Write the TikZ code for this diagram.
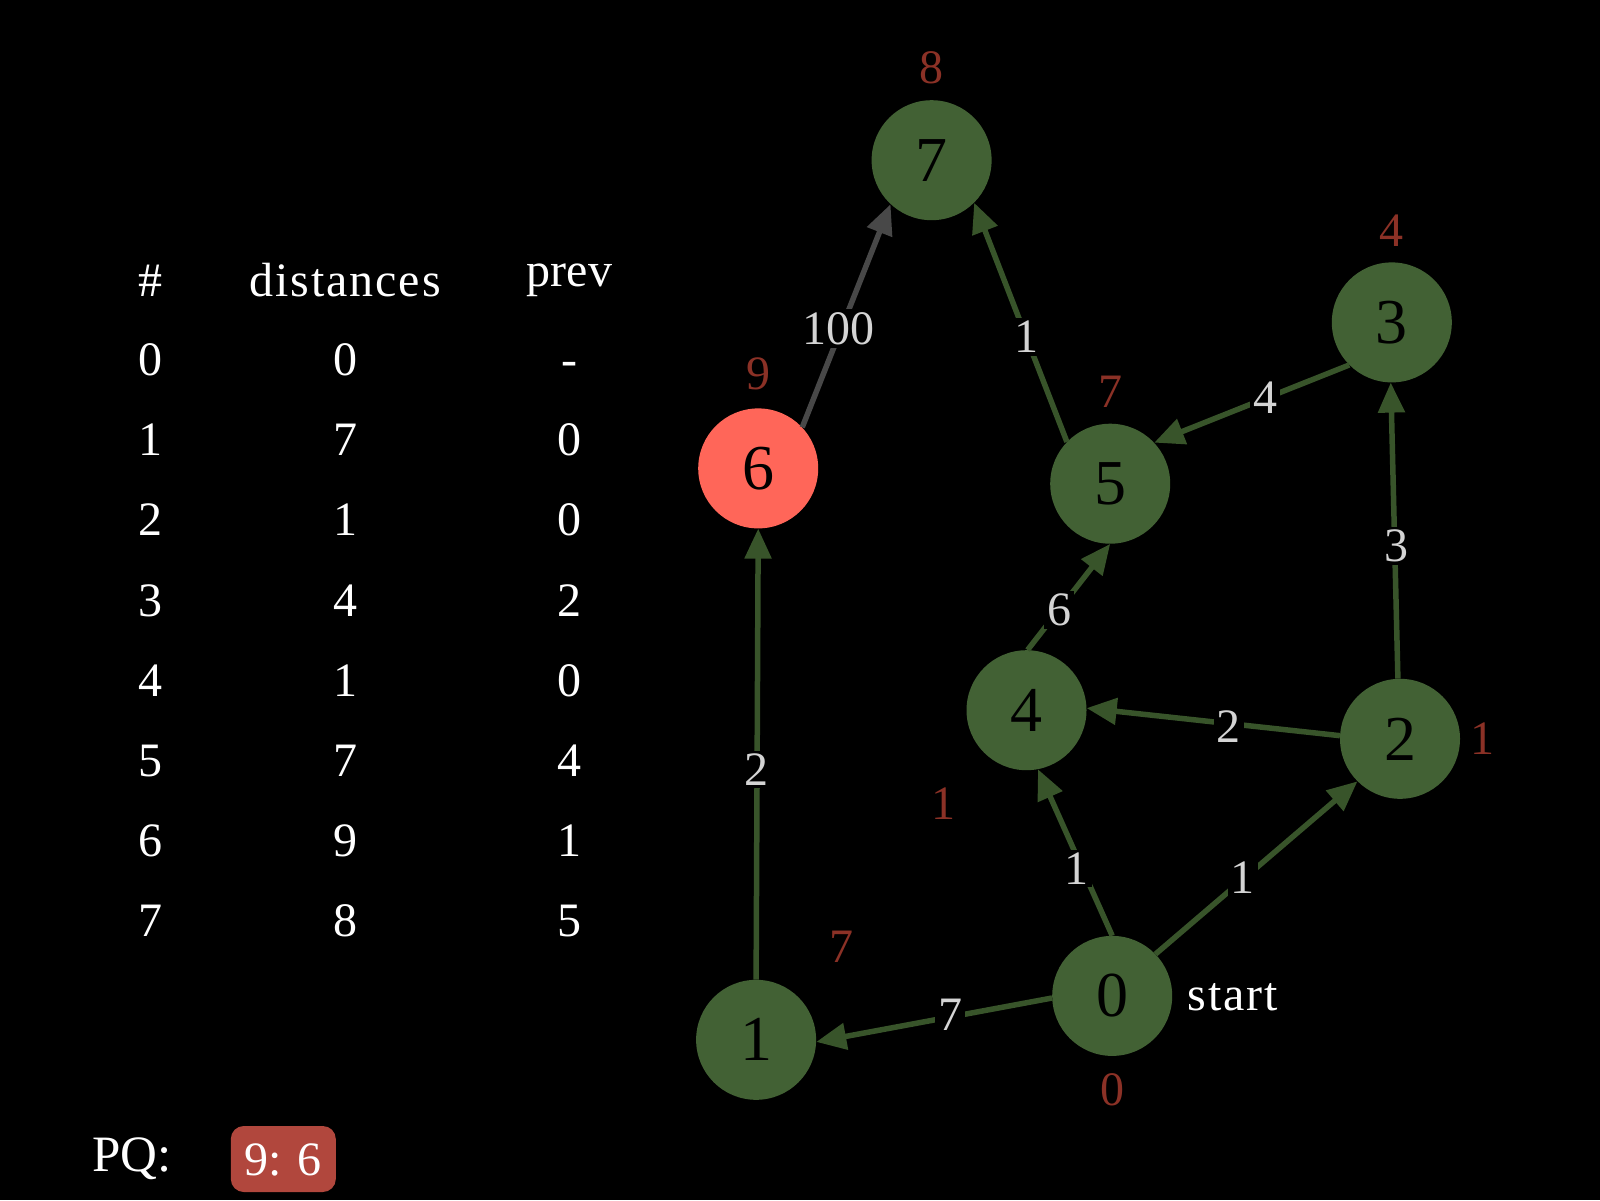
\documentclass[tikz,border=0pt]{standalone}
\usepackage{fontspec}
\setmainfont{Liberation Serif}
\usetikzlibrary{arrows.meta}
\definecolor{nodegreen}{RGB}{66,97,52}
\definecolor{edgegreen}{RGB}{56,84,42}
\definecolor{edgegray}{RGB}{72,72,72}
\definecolor{hotred}{RGB}{255,102,89}
\definecolor{distred}{RGB}{139,49,38}
\definecolor{labgray}{RGB}{212,212,212}
\definecolor{pqred}{RGB}{177,71,61}
\newcommand{\bigtxt}{\fontsize{48}{56}\selectfont}
\begin{document}
\begin{tikzpicture}[x=1pt,y=-1pt,
  vert/.style={circle, fill=nodegreen, minimum size=120pt, inner sep=0pt, text=black, font=\fontsize{64}{64}\selectfont},
  edge/.style={line width=5.5pt, draw=edgegreen, -{Triangle[length=30pt,width=26pt]}},
  elab/.style={fill=black, text=labgray, font=\bigtxt, inner sep=3pt},
  dlab/.style={text=distred, font=\bigtxt},
  tab/.style={text=white, font=\bigtxt, anchor=base},
]
\fill[black] (0,0) rectangle (1600,1200);
\useasboundingbox (0,0) rectangle (1600,1200);

% graph nodes
\node[vert] (n7) at (931.6,160.2) {7};
\node[vert] (n3) at (1391.8,322.4) {3};
\node[vert, fill=hotred] (n6) at (758.2,468.4) {6};
\node[vert] (n5) at (1110.2,483.7) {5};
\node[vert] (n4) at (1026.5,710.2) {4};
\node[vert] (n2) at (1400,738.8) {2};
\node[vert] (n0) at (1112.2,995.9) {0};
\node[vert] (n1) at (756.1,1039.8) {1};

% edges
\draw[edge, draw=edgegray] (n6.43) -- (n7.-133);
\draw[edge] (n5.136) -- (n7.-45);
\draw[edge] (n3.-135) -- (n5.43);
\draw[edge] (n2.92) -- (n3.-91);
\draw[edge] (n4.89) -- (n5.-90);
\draw[edge] (n2.177) -- (n4.2);
\draw[edge] (n0.90) -- (n4.-79);
\draw[edge] (n0.44) -- (n2.-135);
\draw[edge] (n0.182) -- (n1.-2);
\draw[edge] (n1.90) -- (n6.-90);

% edge labels
\node[elab] (w67) at (838.8,328.6) {100};
\node[elab] (w57) at (1026.5,336.7) {1};
\node[elab] (w35) at (1265.3,398) {4};
\node[elab] (w23) at (1396,546) {3};
\node[elab] (w45) at (1059.2,610.2) {6};
\node[elab] (w24) at (1228.6,726.5) {2};
\node[elab] (w04) at (1076.5,868.4) {1};
\node[elab] (w02) at (1242.9,877.6) {1};
\node[elab] (w01) at (950,1014.3) {7};
\node[elab] (w16) at (756.1,769.4) {2};

% distance labels
\node[dlab] (d7) at (931.6,67.3) {8};
\node[dlab] (d3) at (1391.8,230.6) {4};
\node[dlab] (d6) at (758.2,373.5) {9};
\node[dlab] (d5) at (1110.2,391.8) {7};
\node[dlab] (d4) at (943.9,804) {1};
\node[dlab] (d2) at (1482.7,738.8) {1};
\node[dlab] (d0) at (1112.2,1089.8) {0};
\node[dlab] (d1) at (841.8,947) {7};

\node[text=white, font=\bigtxt\addfontfeatures{LetterSpace=4}, anchor=base west] (start) at (1184,1010) {start};

% table
\node[tab] (h1) at (150,296) {\#};
\node[tab, font=\bigtxt\addfontfeatures{LetterSpace=4}] (h2) at (345,296) {distances};
\node[tab] (h3) at (569.4,286) {prev};
\foreach \i/\d/\p [count=\k from 0] in {0/0/-,1/7/0,2/1/0,3/4/2,4/1/0,5/7/4,6/9/1,7/8/5}{
  \node[tab] (ti\k) at (150,375.5+80.2*\k) {\i};
  \node[tab] (td\k) at (345,375.5+80.2*\k) {\d};
  \node[tab] (tp\k) at (569.4,375.5+80.2*\k) {\p};
}

% PQ
\node[text=white, font=\fontsize{51}{56}\selectfont, anchor=base] (pq) at (131.7,1171.7) {PQ:};
\node[fill=pqred, rounded corners=13pt, minimum width=105pt, minimum height=66pt, inner sep=0pt] (pqbox) at (283.3,1159) {};
\node[text=white, font=\bigtxt, anchor=base] (pqtxt) at (283.3,1175) {9: 6};
\end{tikzpicture}
\end{document}
